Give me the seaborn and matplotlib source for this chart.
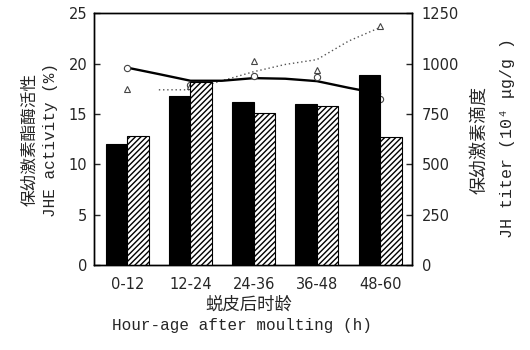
import matplotlib
matplotlib.use("Agg")
import matplotlib.pyplot as plt
import seaborn as sns
import numpy as np
import pandas as pd

# data
age_groups = ["0-12", "12-24", "24-36", "36-48", "48-60"]
jhe_black = [12.0, 16.8, 16.2, 16.0, 18.9]
jhe_hatched = [12.8, 18.2, 15.1, 15.8, 12.7]

# JH titer curves (right axis, 10^4 ug/g)
solid_x = [0, 0.5, 1, 1.5, 2, 2.5, 3, 3.5, 4]
solid_y = [980, 948, 915, 915, 928, 925, 913, 880, 850]
circle_y = [980, 895, 940, 932, 825]
dotted_x = [0.5, 1, 1.5, 2, 2.5, 3, 3.5, 4]
dotted_y = [870, 870, 915, 960, 996, 1020, 1112, 1180]
triangle_y = [875, 890, 1012, 968, 1185]

left_ticks = [0, 5, 10, 15, 20, 25]
right_ticks = [0, 250, 500, 750, 1000, 1250]

CJK = ["Noto Sans CJK SC", "DejaVu Sans"]
MONO = ["Liberation Mono", "DejaVu Sans Mono"]

sns.set_style("ticks")
plt.rcParams["font.family"] = ["DejaVu Sans"]
plt.rcParams["hatch.linewidth"] = 1.0

df = pd.DataFrame({
    "age": age_groups * 2,
    "value": jhe_black + jhe_hatched,
    "group": ["black"] * 5 + ["hatched"] * 5,
})

fig = plt.figure(figsize=(5.3, 3.5), dpi=100)
ax = fig.add_axes([0.178, 0.243, 0.599, 0.719])
ax2 = ax.twinx()

# bars on the main axes, drawn above the lines
sns.barplot(data=df, x="age", y="value", hue="group", palette=["black", "white"],
            width=0.68, dodge=True, edgecolor="black", linewidth=0.8,
            ax=ax, legend=False, errorbar=None)
for p in ax.containers[1]:
    p.set_hatch("//////")

ax.set_zorder(ax2.get_zorder() + 1)
ax.patch.set_visible(False)

pos = np.arange(len(age_groups))
sns.lineplot(x=dotted_x, y=dotted_y, ax=ax2, color="#555555", lw=1.0,
             linestyle=(0, (1, 2)))
sns.lineplot(x=solid_x, y=solid_y, ax=ax2, color="black", lw=1.7)
ax2.plot(pos, circle_y, "o", ms=4.5, mfc="white", mec="#444444", mew=0.8)
ax2.plot(pos, triangle_y, "^", ms=4.5, mfc="white", mec="#444444", mew=0.8)

ax.set_xlim(-0.52, 4.5)
ax.set_ylim(0, 25)
ax2.set_ylim(0, 1250)
ax.set_yticks(left_ticks)
ax2.set_yticks(right_ticks)
ax.set_xlabel("")
ax.set_ylabel("")
ax2.set_ylabel("")

ax.tick_params(axis="x", length=0, pad=9, labelsize=10.5)
ax.tick_params(axis="y", direction="in", length=4, width=1, pad=5, labelsize=10.5)
ax2.tick_params(axis="y", direction="in", length=4, width=1, pad=7, labelsize=10.5)
for a in (ax, ax2):
    for s in a.spines.values():
        s.set_visible(True)
        s.set_linewidth(1.0)
        s.set_color("black")

# axis titles
fig.text(0.057, 0.601, "保幼激素酯酶活性", rotation=90, ha="center", va="center",
         fontsize=12, family=CJK)
fig.text(0.096, 0.601, "JHE activity (%)", rotation=90, ha="center", va="center",
         fontsize=11.5, family=MONO)
fig.text(0.906, 0.60, "保幼激素滴度", rotation=90, ha="center", va="center",
         fontsize=13, family=CJK)
fig.text(0.958, 0.605, "JH titer (10⁴ μg/g )", rotation=90, ha="center", va="center",
         fontsize=12, family=MONO)
fig.text(0.470, 0.130, "蜕皮后时龄", ha="center", va="center", fontsize=12.5, family=CJK)
fig.text(0.456, 0.071, "Hour-age after moulting (h)", ha="center", va="center",
         fontsize=11.5, family=MONO)

fig.savefig("out.png", dpi=100)
